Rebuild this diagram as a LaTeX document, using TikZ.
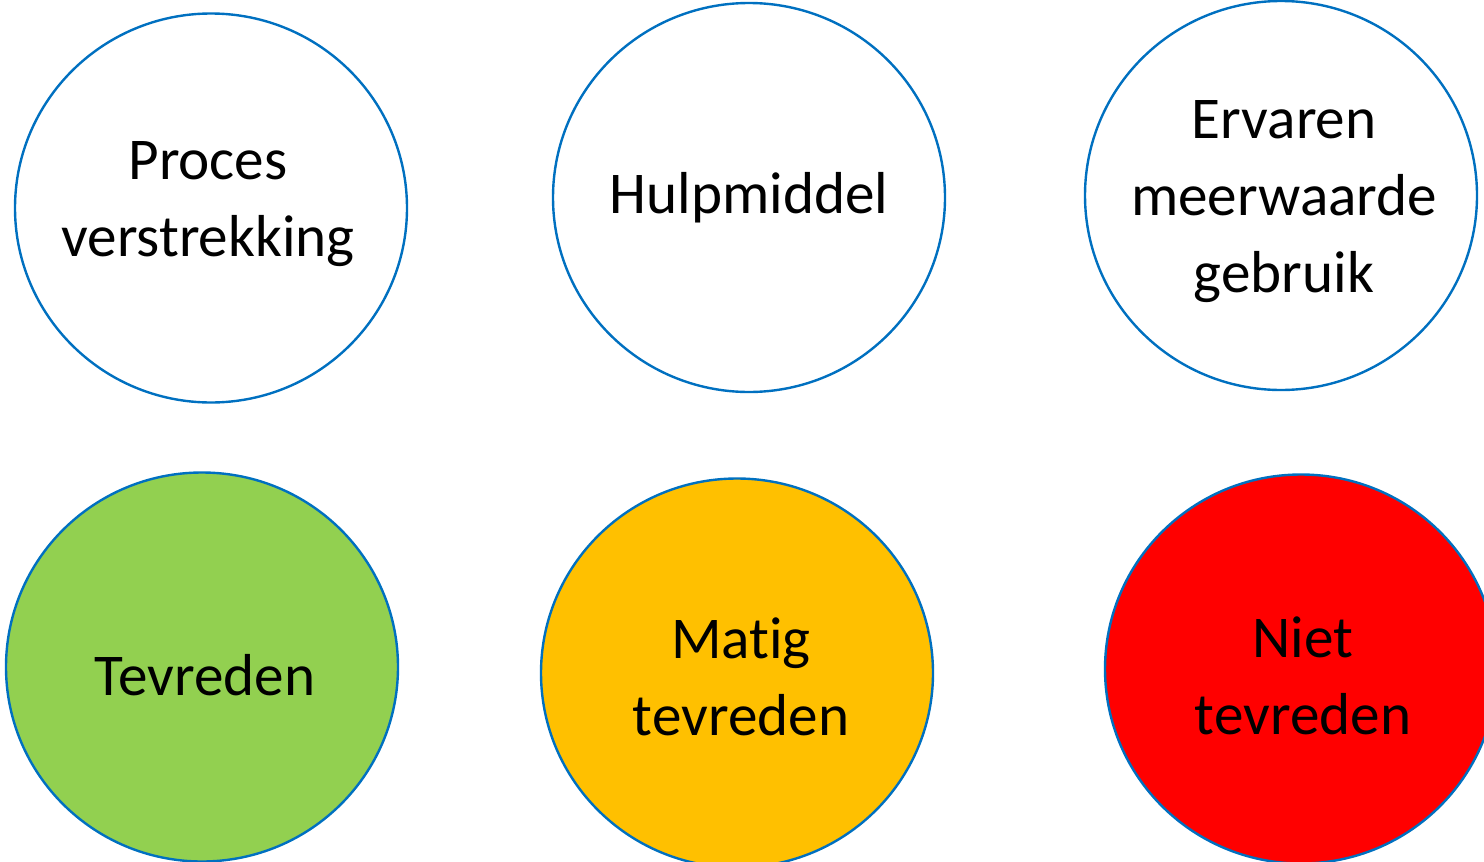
\documentclass[tikz,border=0pt]{standalone}
\usepackage{fontspec}
\setmainfont{Carlito}[Ligatures={NoCommon}]
\usetikzlibrary{shapes.geometric}
\definecolor{ringblue}{HTML}{0070C0}
\definecolor{okgreen}{HTML}{92D050}
\definecolor{midorange}{HTML}{FFC000}
\definecolor{badred}{HTML}{FF0000}
\tikzset{
  bubble/.style={ellipse, draw=ringblue, line width=1.2pt, minimum width=196pt,
    minimum height=194.5pt, inner sep=0pt},
  caption/.style={align=center, inner sep=0pt,
    font=\fontsize{29.6pt}{38.5pt}\selectfont}
}
\begin{document}
\begin{tikzpicture}[x=0.5pt,y=-0.5pt]
\useasboundingbox (0,0) rectangle (1484,862);
\node[bubble] (proces) at (211,208) {};
\node[bubble] (hulp) at (749,197.5) {};
\node[bubble] (ervaren) at (1281,195.5) {};
\node[bubble, fill=okgreen] (tev) at (202,667) {};
\node[bubble, fill=midorange] (matig) at (737,673) {};
\node[bubble, fill=badred] (niet) at (1301,669) {};
\node[caption, xshift=-1.5pt, yshift=2pt] (proces-t) at (proces.center) {Proces\\verstrekking};
\node[caption] (hulp-t) at (hulp.center) {Hulpmiddel};
\node[caption, xshift=1.5pt, yshift=-3pt] (ervaren-t) at (ervaren.center) {Ervaren\\meerwaarde\\gebruik};
\node[caption, xshift=1.5pt, yshift=-4pt] (tev-t) at (tev.center) {Tevreden};
\node[caption, xshift=2pt, yshift=-2pt] (matig-t) at (matig.center) {Matig\\tevreden};
\node[caption, xshift=1pt, yshift=-3.5pt] (niet-t) at (niet.center) {Niet\\tevreden};
\end{tikzpicture}
\end{document}
